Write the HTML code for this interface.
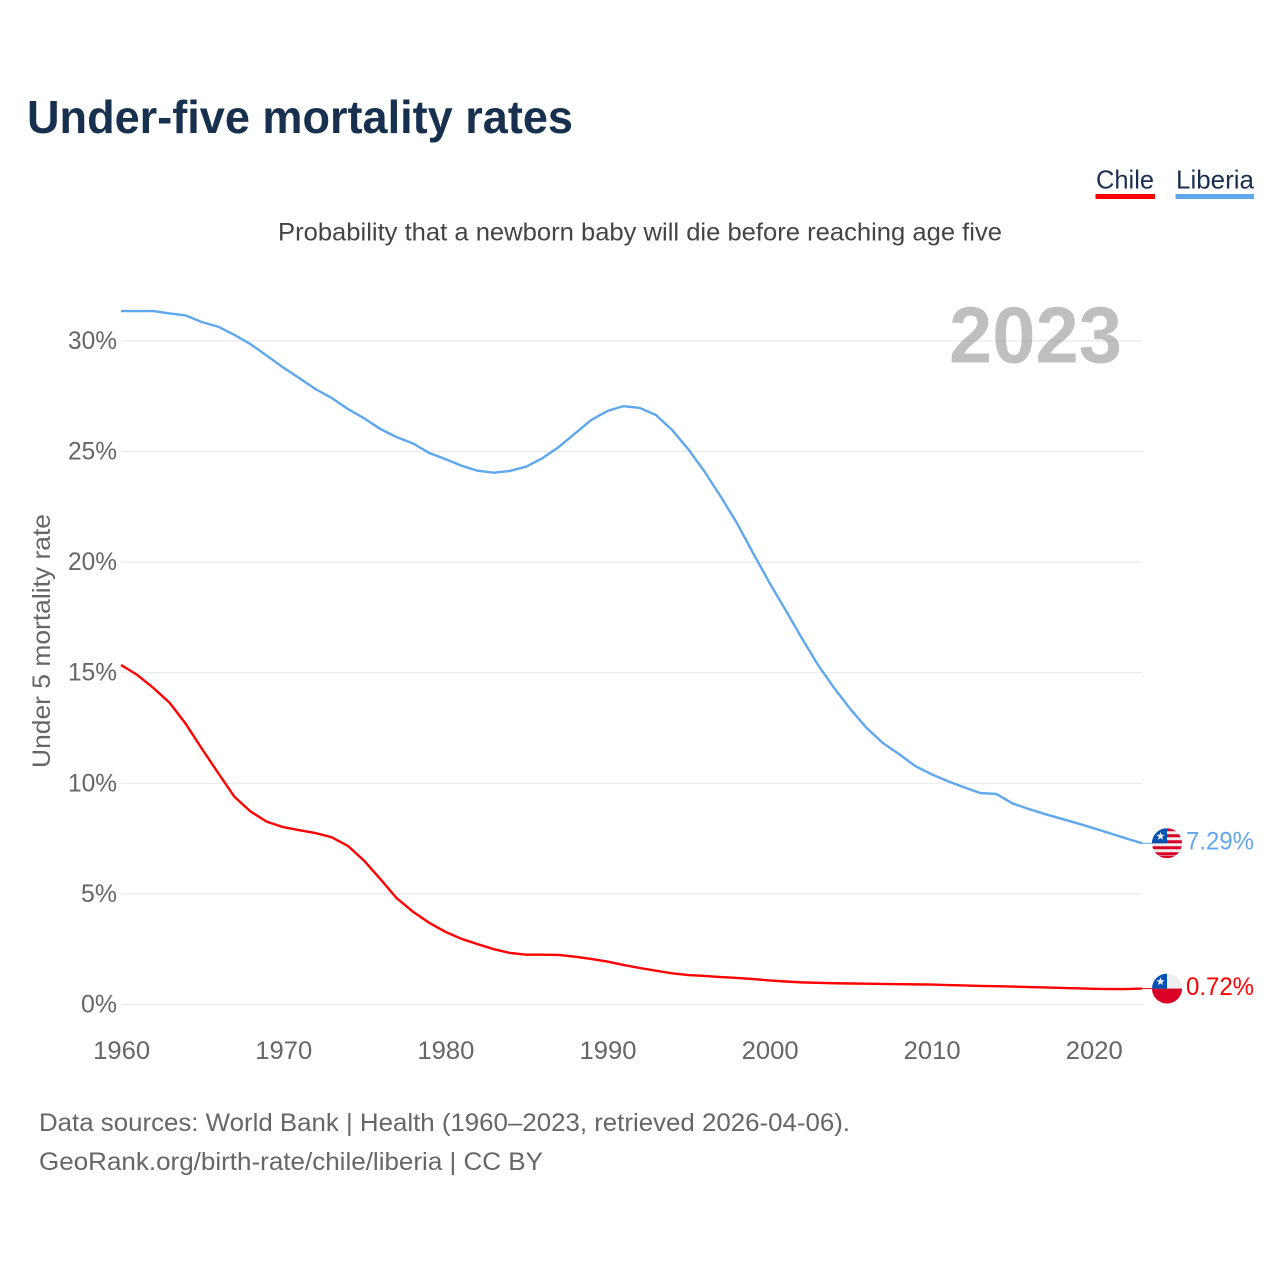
<!DOCTYPE html>
<html lang="en">
<head>
<meta charset="utf-8">
<title>Under-five mortality rates</title>
<style>
html,body{margin:0;padding:0;background:#fff;}
svg{display:block;font-family:"Liberation Sans",sans-serif;}
</style>
</head>
<body>
<svg id="chart" width="1280" height="1280" viewBox="0 0 1280 1280" xmlns="http://www.w3.org/2000/svg">
  <text x="27" y="133" font-size="46" font-weight="700" fill="#17304f" textLength="546" lengthAdjust="spacingAndGlyphs">Under-five mortality rates</text>
  <g>
    <text x="1096" y="188.5" font-size="26" fill="#1a2f50" textLength="58" lengthAdjust="spacingAndGlyphs">Chile</text>
    <rect x="1095.5" y="194" width="59.5" height="5" fill="#ff0000"/>
  </g>
  <g>
    <text x="1176" y="188.5" font-size="26" fill="#1a2f50" textLength="78" lengthAdjust="spacingAndGlyphs">Liberia</text>
    <rect x="1175.5" y="194" width="78.5" height="5" fill="#5fa8ee"/>
  </g>
  <text x="278" y="240.5" font-size="25" fill="#444444" textLength="724" lengthAdjust="spacingAndGlyphs">Probability that a newborn baby will die before reaching age five</text>
  <g id="grid"></g>
  <g id="yticks"></g>
  <g id="xticks"></g>
  <text transform="translate(50,768) rotate(-90)" x="0" y="0" font-size="25" fill="#666666" textLength="254" lengthAdjust="spacingAndGlyphs">Under 5 mortality rate</text>
  <text x="949" y="362.5" font-size="80" font-weight="700" fill="#808080" fill-opacity="0.5" textLength="173" lengthAdjust="spacingAndGlyphs">2023</text>
  <g id="series"></g>
  <g id="endpoints"></g>
  <text x="39" y="1131" font-size="25" fill="#666666" textLength="811" lengthAdjust="spacingAndGlyphs">Data sources: World Bank | Health (1960–2023, retrieved 2026-04-06).</text>
  <text x="39" y="1170" font-size="25" fill="#666666" textLength="504" lengthAdjust="spacingAndGlyphs">GeoRank.org/birth-rate/chile/liberia | CC BY</text>
</svg>
<script>
const startYear = 1960;
const yTickValues = [0, 5, 10, 15, 20, 25, 30];
const xTickYears = [1960, 1970, 1980, 1990, 2000, 2010, 2020];
const chileValues = [
  15.35,14.9,14.31,13.64,12.68,11.55,10.46,9.39,8.72,8.26,
  8.02,7.88,7.75,7.56,7.17,6.5,5.67,4.81,4.2,3.7,
  3.29,2.97,2.73,2.5,2.33,2.25,2.25,2.24,2.16,2.06,
  1.94,1.79,1.65,1.53,1.41,1.33,1.29,1.24,1.2,1.15,
  1.09,1.04,1.0,0.98,0.96,0.95,0.94,0.93,0.92,0.91,
  0.9,0.88,0.86,0.84,0.83,0.81,0.79,0.77,0.75,0.73,
  0.71,0.7,0.7,0.72
];
const liberiaValues = [
  31.35,31.35,31.35,31.24,31.15,30.85,30.64,30.27,29.85,29.33,
  28.8,28.32,27.82,27.42,26.92,26.5,26.02,25.65,25.37,24.94,
  24.66,24.36,24.13,24.04,24.12,24.32,24.7,25.2,25.81,26.42,
  26.83,27.05,26.97,26.65,25.97,25.1,24.09,22.96,21.76,20.4,
  19.07,17.83,16.56,15.35,14.3,13.35,12.5,11.82,11.32,10.78,
  10.41,10.1,9.82,9.56,9.52,9.09,8.84,8.61,8.4,8.19,
  7.97,7.74,7.51,7.29
];

const NS = 'http://www.w3.org/2000/svg';
const xScale = function (year) { return 121 + (year - 1960) * 16.21; };
const yScale = function (value) { return 1004.5 - value * 22.12; };
const plotLeft = xScale(1960);
const plotRight = xScale(2023);

function make(tag, attrs, parent) {
  const el = document.createElementNS(NS, tag);
  Object.keys(attrs).forEach(function (k) { el.setAttribute(k, attrs[k]); });
  parent.appendChild(el);
  return el;
}

const gridG = document.getElementById('grid');
const yG = document.getElementById('yticks');
const xG = document.getElementById('xticks');
const seriesG = document.getElementById('series');
const endG = document.getElementById('endpoints');

yTickValues.forEach(function (v) {
  const line = make('line', {x1: plotLeft, x2: plotRight, y1: yScale(v), y2: yScale(v), stroke: '#e9e9e9', 'stroke-width': 1.2}, gridG);
  
  
  const label = make('text', {x: 117, y: yScale(v) + 8, 'text-anchor': 'end', 'font-size': 25, fill: '#666666'}, yG);
  
  
  label.textContent = v + '%';
  const textW = String(v).length * 13 + 23;
  label.setAttribute('textLength', textW);
  label.setAttribute('lengthAdjust', 'spacingAndGlyphs');
});

xTickYears.forEach(function (yr) {
  const label = make('text', {x: xScale(yr) + 0.7, y: 1059, 'text-anchor': 'middle', 'font-size': 25, fill: '#666666', textLength: 57, lengthAdjust: 'spacingAndGlyphs'}, xG);
  
  
  label.textContent = String(yr);
});

function pointsFor(values) {
  return values.map(function (v, i) {
    return xScale(startYear + i).toFixed(2) + ',' + yScale(v).toFixed(2);
  }).join(' ');
}

const liberiaLine = make('polyline', {points: pointsFor(liberiaValues), fill: 'none', stroke: '#5fa8ee', 'stroke-width': 2.4, 'stroke-linejoin': 'round'}, seriesG);


const chileLine = make('polyline', {points: pointsFor(chileValues), fill: 'none', stroke: '#ff0000', 'stroke-width': 2.4, 'stroke-linejoin': 'round'}, seriesG);



const flagCx = 1167;
const flagR = 15;
let clipSeq = 0;

function flagBase(cy) {
  clipSeq += 1;
  const id = 'flag-clip-' + clipSeq;
  const clip = make('clipPath', {id: id}, endG);
  make('circle', {cx: flagCx, cy: cy, r: flagR}, clip);
  return make('g', {'clip-path': 'url(#' + id + ')'}, endG);
}

function star(cx, cy, r, parent) {
  let pts = [];
  for (let i = 0; i < 10; i++) {
    const rad = i % 2 === 0 ? r : r * 0.42;
    const a = -Math.PI / 2 + i * Math.PI / 5;
    pts.push((cx + rad * Math.cos(a)).toFixed(2) + ',' + (cy + rad * Math.sin(a)).toFixed(2));
  }
  return make('polygon', {points: pts.join(' '), fill: '#eeeeee'}, parent);
}

function endLabel(value, color) {
  const y = yScale(value);
  const stub = make('line', {x1: plotRight, x2: 1152, y1: y, y2: y, stroke: color, 'stroke-width': 1}, endG);
  
  
  const t = make('text', {x: 1186, y: y + 6.5, 'font-size': 25, fill: color, textLength: 68, lengthAdjust: 'spacingAndGlyphs'}, endG);
  
  
  t.textContent = value.toFixed(2) + '%';
}

const liberiaLast = liberiaValues[liberiaValues.length - 1];
const chileLast = chileValues[chileValues.length - 1];

endLabel(liberiaLast, '#5fa8ee');
endLabel(chileLast, '#ff0000');

const libY = yScale(liberiaLast);
const libFlag = flagBase(libY);


make('rect', {x: flagCx - flagR, y: libY - flagR, width: 30, height: 30, fill: '#eeeeee'}, libFlag);
[0, 1, 2, 3, 4].forEach(function (n) {
  make('rect', {x: flagCx - flagR, y: libY - flagR + n * 6, width: 30, height: 3, fill: '#d80027'}, libFlag);
});
make('rect', {x: flagCx - flagR, y: libY - flagR + 27.5, width: 30, height: 2.5, fill: '#d80027'}, libFlag);
make('rect', {x: flagCx - flagR, y: libY - flagR, width: 15, height: 15, fill: '#0052b4'}, libFlag);
star(flagCx - 6.5, libY - 7, 4.4, libFlag);

const chiY = yScale(chileLast);
const chiFlag = flagBase(chiY);


make('rect', {x: flagCx - flagR, y: chiY - flagR, width: 30, height: 15, fill: '#eeeeee'}, chiFlag);
make('rect', {x: flagCx - flagR, y: chiY, width: 30, height: 15, fill: '#d80027'}, chiFlag);
make('rect', {x: flagCx - flagR, y: chiY - flagR, width: 15, height: 15, fill: '#0052b4'}, chiFlag);
star(flagCx - 6.5, chiY - 7, 4.4, chiFlag);
</script>
</body>
</html>
